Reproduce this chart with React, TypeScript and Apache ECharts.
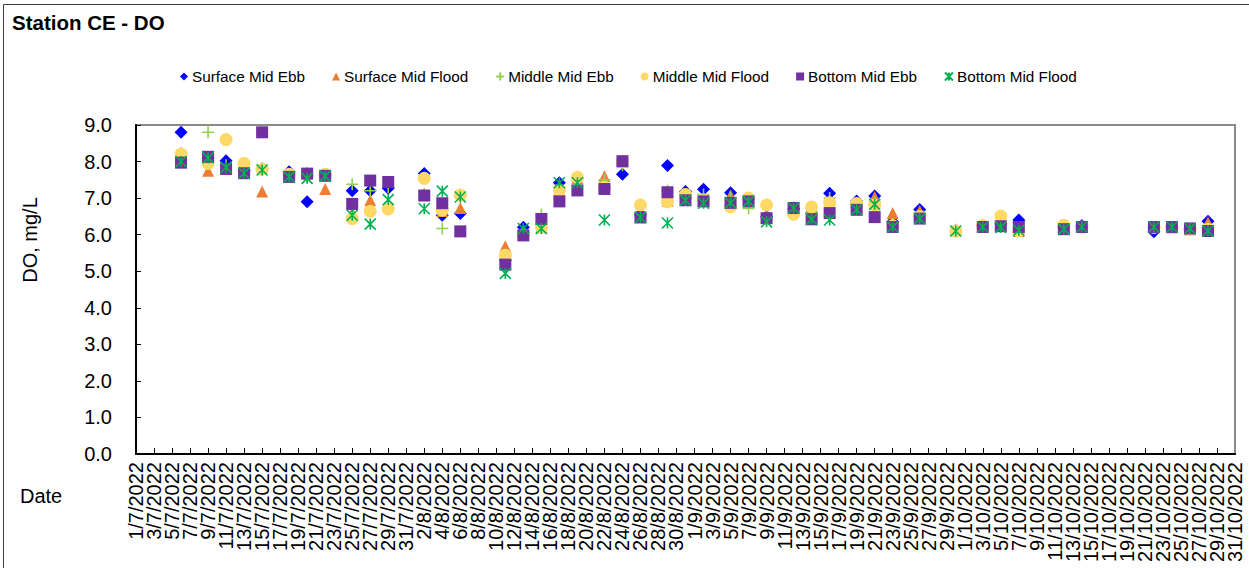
import React, { useEffect, useRef } from "react";
import * as echarts from "echarts";

// Axis days: 1/7/2022 .. 31/10/2022
const months = [7, 8, 9, 10];
const monthLengths = [31, 31, 30, 31];
const axisDays: string[] = [];
months.forEach((m, i) => {
  for (let d = 1; d <= monthLengths[i]; d++) axisDays.push(`${d}/${m}/2022`);
});

const sampleDates = [
  "6/7/2022", "9/7/2022", "11/7/2022", "13/7/2022", "15/7/2022", "18/7/2022", "20/7/2022", "22/7/2022",
  "25/7/2022", "27/7/2022", "29/7/2022", "2/8/2022", "4/8/2022", "6/8/2022", "11/8/2022", "13/8/2022",
  "15/8/2022", "17/8/2022", "19/8/2022", "22/8/2022", "24/8/2022", "26/8/2022", "29/8/2022", "31/8/2022",
  "2/9/2022", "5/9/2022", "7/9/2022", "9/9/2022", "12/9/2022", "14/9/2022", "16/9/2022", "19/9/2022",
  "21/9/2022", "23/9/2022", "26/9/2022", "30/9/2022", "3/10/2022", "5/10/2022", "7/10/2022", "12/10/2022",
  "14/10/2022", "22/10/2022", "24/10/2022", "26/10/2022", "28/10/2022",
];

const surfaceMidEbb = [
  8.8, 8.1, 8.02, 7.75, 7.8, 7.72, 6.9, 7.65, 7.2, 7.2, 7.27, 7.67, 6.53, 6.58, 5.3, 6.2,
  6.2, 7.42, 7.55, 7.3, 7.65, 6.55, 7.89, 7.18, 7.24, 7.15, 6.98, 6.5, 6.7, 6.6, 7.13, 6.92,
  7.06, 6.35, 6.69, null, 6.25, 6.3, 6.4, 6.2, 6.25, 6.08, 6.2, 6.15, 6.37,
];
const surfaceMidFlood = [
  8.25, 7.75, 7.8, 7.95, 7.18, 7.6, 7.7, 7.25, 6.6, 6.94, 7.45, 7.12, 6.65, 6.73, 5.68, 6.05,
  6.2, 7.2, 7.55, 7.6, 8.0, 6.5, 6.93, 7.0, 6.95, 7.08, 7.02, 6.5, 6.7, 6.75, 6.95, 6.8,
  7.03, 6.59, 6.65, 6.15, 6.25, 6.3, 6.1, 6.2, 6.25, 6.2, 6.2, 6.15, 6.34,
];
const middleMidEbb = [
  8.15, 8.8, 7.9, 7.75, 7.8, 7.6, 7.6, 7.6, 7.38, 7.2, 7.3, 7.1, 6.17, 7.1, 5.3, 6.05,
  6.55, 7.3, 7.5, 7.5, 7.9, 6.5, 7.2, 7.0, 7.1, 7.0, 6.72, 6.45, 6.75, 6.6, 7.0, 6.75,
  6.9, 6.3, 6.5, 6.1, 6.25, 6.3, 6.15, 6.2, 6.2, 6.2, 6.2, 6.15, 6.2,
];
const middleMidFlood = [
  8.2, 7.95, 8.6, 7.95, 7.79, 7.65, 7.65, 7.65, 6.44, 6.64, 6.7, 7.54, 6.67, 7.08, 5.44, 6.0,
  6.2, 7.22, 7.57, 7.3, 8.0, 6.81, 6.9, 7.1, 6.95, 6.76, 7.0, 6.81, 6.56, 6.76, 6.87, 6.85,
  6.81, 6.25, 6.5, 6.1, 6.25, 6.51, 6.1, 6.26, 6.2, 6.2, 6.2, 6.15, 6.15,
];
const bottomMidEbb = [
  7.97, 8.13, 7.8, 7.68, 8.8, 7.58, 7.67, 7.61, 6.84, 7.48, 7.44, 7.07, 6.86, 6.09, 5.18, 5.98,
  6.43, 6.91, 7.21, 7.25, 8.01, 6.47, 7.16, 6.94, 6.91, 6.87, 6.91, 6.45, 6.73, 6.42, 6.59, 6.68,
  6.48, 6.21, 6.44, null, 6.21, 6.23, 6.21, 6.15, 6.21, 6.21, 6.21, 6.17, 6.1,
];
const bottomMidFlood = [
  8.0, 8.1, 7.84, 7.68, 7.77, 7.58, 7.54, 7.6, 6.53, 6.29, 6.96, 6.71, 7.19, 7.03, 4.94, 6.17,
  6.17, 7.42, 7.42, 6.4, null, 6.47, 6.32, 6.94, 6.86, 6.87, 6.91, 6.35, 6.73, 6.42, 6.4, 6.68,
  6.83, 6.21, 6.44, 6.1, 6.21, 6.2, 6.12, 6.15, 6.21, 6.21, 6.21, 6.17, 6.1,
];

const yTicks = [0, 1, 2, 3, 4, 5, 6, 7, 8, 9];

const plusPath = "path://M5,0L5,10M0,5L10,5";
const starPath = "path://M0,0L10,10M10,0L0,10M5,0L5,10";

function toPairs(values: (number | null)[]) {
  const out: [number, number][] = [];
  values.forEach((v, i) => {
    if (v !== null) out.push([axisDays.indexOf(sampleDates[i]), v]);
  });
  return out;
}

export default function App() {
  const ref = useRef<HTMLDivElement>(null);
  useEffect(() => {
    if (!ref.current) return;
    const chart = echarts.init(ref.current, undefined, { renderer: "svg" });
    const font = "Liberation Sans, Arial, sans-serif";
    const seriesDefs = [
      { name: "Surface Mid Ebb", data: surfaceMidEbb, symbol: "diamond", size: 13, color: "#0000FF" },
      { name: "Surface Mid Flood", data: surfaceMidFlood, symbol: "triangle", size: 12, color: "#ED7D31" },
      { name: "Middle Mid Ebb", data: middleMidEbb, symbol: plusPath, size: 12, color: "#92D050", stroke: true },
      { name: "Middle Mid Flood", data: middleMidFlood, symbol: "circle", size: 13, color: "#FFD966" },
      { name: "Bottom Mid Ebb", data: bottomMidEbb, symbol: "rect", size: 12, color: "#7030A0" },
      { name: "Bottom Mid Flood", data: bottomMidFlood, symbol: starPath, size: 11, color: "#00B050", stroke: true },
    ];
    const labelStyle = {
      rotate: 90,
      margin: 8,
      fontSize: 20,
      color: "#000",
      fontFamily: font,
      hideOverlap: false,
      formatter: (v: number) => axisDays[Math.round(v)] ?? "",
    };
    chart.setOption({
      animation: false,
      backgroundColor: "#fff",
      textStyle: { fontFamily: font },
      title: {
        text: "Station CE - DO",
        left: 7,
        top: 7,
        textStyle: { fontFamily: font, fontSize: 20.5, fontWeight: "bold", color: "#000" },
      },
      legend: {
        top: 64,
        left: 175,
        itemWidth: 8,
        itemHeight: 8,
        itemGap: 27,
        textStyle: { fontFamily: font, fontSize: 15.3, color: "#000", padding: [0, 0, 0, -1] },
        data: seriesDefs.map((s) => s.name),
      },
      grid: {
        left: 136,
        right: 14,
        top: 125,
        bottom: 114,
        show: true,
        borderColor: "#8a8a8a",
        borderWidth: 2,
        backgroundColor: "transparent",
      },
      xAxis: [
        {
          type: "value",
          min: 0,
          max: axisDays.length - 1,
          interval: 2,
          axisLine: { show: true, lineStyle: { color: "#000", width: 2 } },
          axisTick: { show: true, inside: true, length: 6, lineStyle: { color: "#000" } },
          axisLabel: { ...labelStyle, showMinLabel: false, showMaxLabel: false },
          splitLine: { show: false },
        },
        {
          type: "value",
          position: "bottom",
          min: 0,
          max: axisDays.length - 1,
          interval: axisDays.length - 1,
          axisLine: { show: false },
          axisTick: { show: false },
          axisLabel: { ...labelStyle, showMinLabel: true, showMaxLabel: true },
          splitLine: { show: false },
        },
      ],
      yAxis: {
        type: "value",
        min: yTicks[0],
        max: yTicks[yTicks.length - 1],
        interval: 1,
        axisLine: { show: true, lineStyle: { color: "#000", width: 2 } },
        axisTick: { show: true, inside: true, length: 5, lineStyle: { color: "#000" } },
        axisLabel: {
          margin: 24,
          fontSize: 20,
          color: "#000",
          fontFamily: font,
          formatter: (v: number) => v.toFixed(1),
        },
        splitLine: { show: false },
      },
      graphic: [
        {
          type: "rect",
          shape: { x: 3.5, y: 4.5, width: 1400, height: 700 },
          style: { fill: "none", stroke: "#404040", lineWidth: 1 },
          silent: true,
          z: -10,
        },
        {
          type: "text",
          x: 30,
          y: 240,
          rotation: Math.PI / 2,
          style: {
            text: "DO, mg/L",
            fontSize: 20,
            fontFamily: font,
            fill: "#000",
            align: "center",
            verticalAlign: "middle",
          },
        },
        {
          type: "text",
          x: 20,
          y: 496,
          style: {
            text: "Date",
            fontSize: 20,
            fontFamily: font,
            fill: "#000",
            align: "left",
            verticalAlign: "middle",
          },
        },
      ],
      series: seriesDefs.map((s) => ({
        name: s.name,
        type: "scatter",
        xAxisIndex: 0,
        data: toPairs(s.data),
        symbol: s.symbol,
        symbolSize: s.size,
        itemStyle: s.stroke
          ? { color: s.color, borderColor: s.color, borderWidth: 1.6, opacity: 1 }
          : { color: s.color, opacity: 1 },
        emphasis: { disabled: true },
      })),
    });
    return () => chart.dispose();
  }, []);
  return (
    <div
      ref={ref}
      style={{ position: "fixed", left: 0, top: 0, width: 1249, height: 568 }}
    />
  );
}
